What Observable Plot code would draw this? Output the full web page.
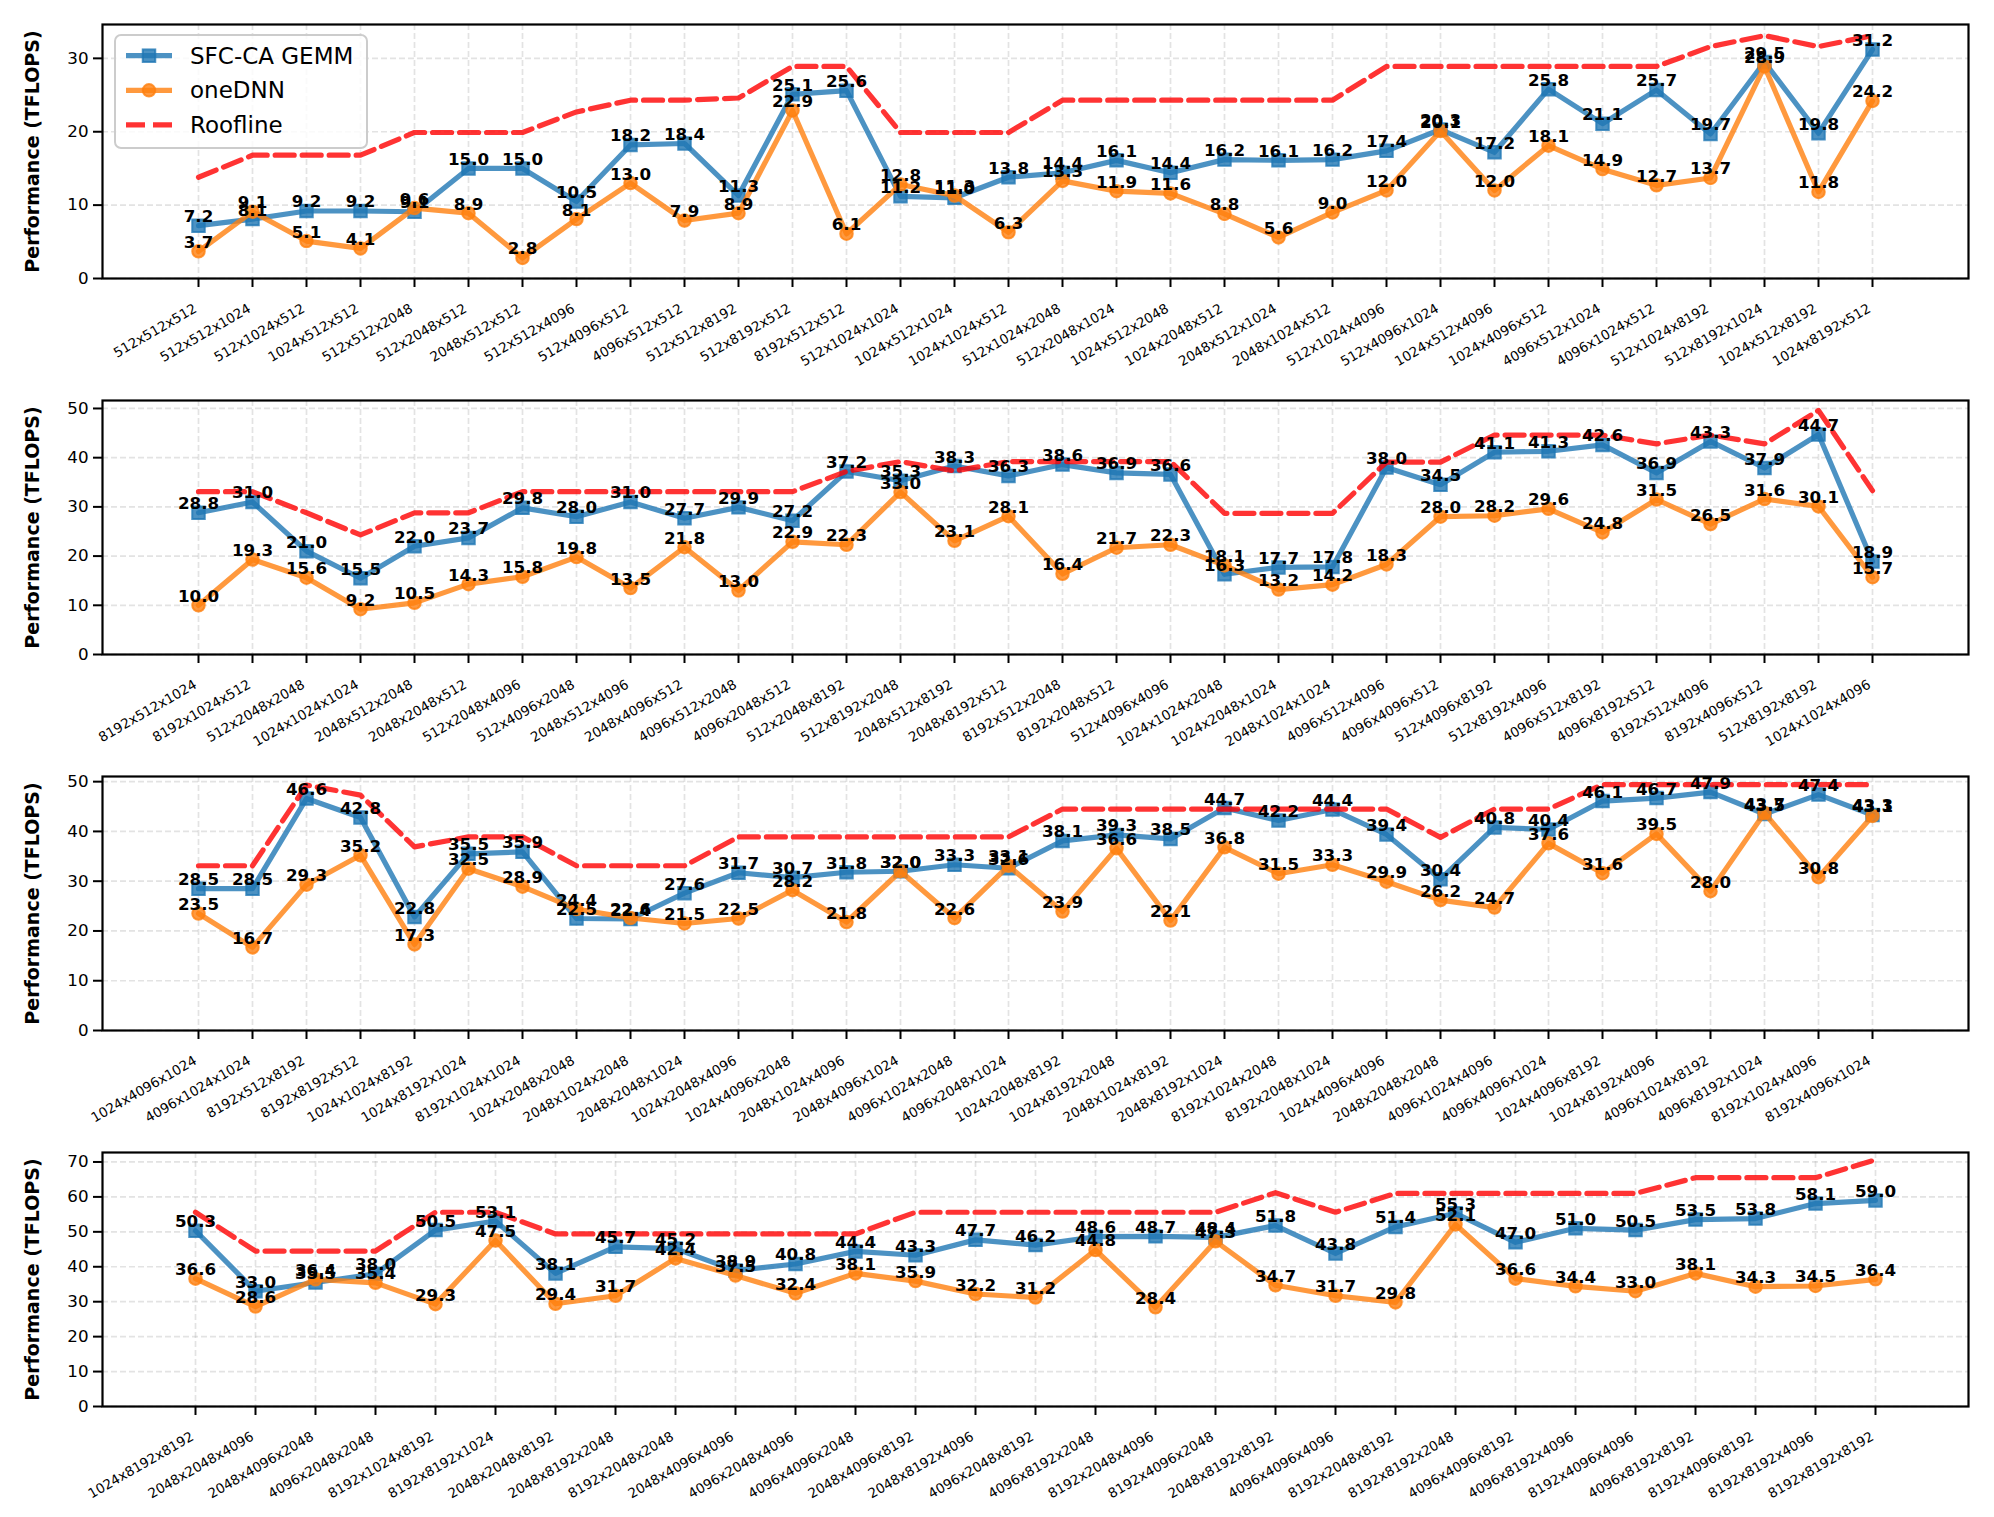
<!DOCTYPE html>
<html><head><meta charset="utf-8">
<script src="https://cdn.jsdelivr.net/npm/d3@7"></script>
<script src="https://cdn.jsdelivr.net/npm/@observablehq/plot@0.6"></script>
<style>
html,body{margin:0;padding:0;background:#fff;}
#root{position:relative;width:1994px;}
#root svg{display:block;}
</style></head><body><div id="root"></div>
<script>
// ---------- data ----------
const seriesNames = ["SFC-CA GEMM", "oneDNN", "Roofline"];
const yAxisLabel = "Performance (TFLOPS)";

const cats1 = ["512x512x512","512x512x1024","512x1024x512","1024x512x512","512x512x2048","512x2048x512","2048x512x512","512x512x4096","512x4096x512","4096x512x512","512x512x8192","512x8192x512","8192x512x512","512x1024x1024","1024x512x1024","1024x1024x512","512x1024x2048","512x2048x1024","1024x512x2048","1024x2048x512","2048x512x1024","2048x1024x512","512x1024x4096","512x4096x1024","1024x512x4096","1024x4096x512","4096x512x1024","4096x1024x512","512x1024x8192","512x8192x1024","1024x512x8192","1024x8192x512"];
const sfc1 = [7.2,8.1,9.2,9.2,9.1,15.0,15.0,10.5,18.2,18.4,11.3,25.1,25.6,11.2,11.0,13.8,14.4,16.1,14.4,16.2,16.1,16.2,17.4,20.3,17.2,25.8,21.1,25.7,19.7,29.5,19.8,31.2];
const one1 = [3.7,9.1,5.1,4.1,9.6,8.9,2.8,8.1,13.0,7.9,8.9,22.9,6.1,12.8,11.3,6.3,13.3,11.9,11.6,8.8,5.6,9.0,12.0,20.1,12.0,18.1,14.9,12.7,13.7,28.9,11.8,24.2];
const roof1 = [13.8,16.8,16.8,16.8,19.9,19.9,19.9,22.7,24.3,24.3,24.6,28.9,28.9,19.9,19.9,19.9,24.3,24.3,24.3,24.3,24.3,24.3,28.9,28.9,28.9,28.9,28.9,28.9,31.6,33.1,31.6,33.1];
const yTicks1 = [0,10,20,30];

const cats2 = ["8192x512x1024","8192x1024x512","512x2048x2048","1024x1024x1024","2048x512x2048","2048x2048x512","512x2048x4096","512x4096x2048","2048x512x4096","2048x4096x512","4096x512x2048","4096x2048x512","512x2048x8192","512x8192x2048","2048x512x8192","2048x8192x512","8192x512x2048","8192x2048x512","512x4096x4096","1024x1024x2048","1024x2048x1024","2048x1024x1024","4096x512x4096","4096x4096x512","512x4096x8192","512x8192x4096","4096x512x8192","4096x8192x512","8192x512x4096","8192x4096x512","512x8192x8192","1024x1024x4096"];
const sfc2 = [28.8,31.0,21.0,15.5,22.0,23.7,29.8,28.0,31.0,27.7,29.9,27.2,37.2,35.3,38.3,36.3,38.6,36.9,36.6,16.3,17.7,17.8,38.0,34.5,41.1,41.3,42.6,36.9,43.3,37.9,44.7,18.9];
const one2 = [10.0,19.3,15.6,9.2,10.5,14.3,15.8,19.8,13.5,21.8,13.0,22.9,22.3,33.0,23.1,28.1,16.4,21.7,22.3,18.1,13.2,14.2,18.3,28.0,28.2,29.6,24.8,31.5,26.5,31.6,30.1,15.7];
const roof2 = [33.1,33.1,28.8,24.3,28.8,28.8,33.1,33.1,33.1,33.1,33.1,33.1,37.2,39.2,37.3,39.2,39.2,39.2,39.2,28.7,28.7,28.7,39.1,39.1,44.6,44.6,44.6,42.8,44.6,42.8,49.6,33.3];
const yTicks2 = [0,10,20,30,40,50];

const cats3 = ["1024x4096x1024","4096x1024x1024","8192x512x8192","8192x8192x512","1024x1024x8192","1024x8192x1024","8192x1024x1024","1024x2048x2048","2048x1024x2048","2048x2048x1024","1024x2048x4096","1024x4096x2048","2048x1024x4096","2048x4096x1024","4096x1024x2048","4096x2048x1024","1024x2048x8192","1024x8192x2048","2048x1024x8192","2048x8192x1024","8192x1024x2048","8192x2048x1024","1024x4096x4096","2048x2048x2048","4096x1024x4096","4096x4096x1024","1024x4096x8192","1024x8192x4096","4096x1024x8192","4096x8192x1024","8192x1024x4096","8192x4096x1024"];
const sfc3 = [28.5,28.5,46.6,42.8,22.8,35.5,35.9,22.5,22.4,27.6,31.7,30.7,31.8,32.0,33.3,32.6,38.1,39.3,38.5,44.7,42.2,44.4,39.4,30.4,40.8,40.4,46.1,46.7,47.9,43.5,47.4,43.3];
const one3 = [23.5,16.7,29.3,35.2,17.3,32.5,28.9,24.4,22.6,21.5,22.5,28.2,21.8,32.0,22.6,33.1,23.9,36.6,22.1,36.8,31.5,33.3,29.9,26.2,24.7,37.6,31.6,39.5,28.0,43.7,30.8,43.1];
const roof3 = [33.1,33.1,49.3,47.3,36.9,38.9,38.9,33.1,33.1,33.1,38.9,38.9,38.9,38.9,38.9,38.9,44.5,44.5,44.5,44.5,44.5,44.5,44.5,38.8,44.5,44.5,49.4,49.4,49.4,49.4,49.4,49.4];
const yTicks3 = [0,10,20,30,40,50];

const cats4 = ["1024x8192x8192","2048x2048x4096","2048x4096x2048","4096x2048x2048","8192x1024x8192","8192x8192x1024","2048x2048x8192","2048x8192x2048","8192x2048x2048","2048x4096x4096","4096x2048x4096","4096x4096x2048","2048x4096x8192","2048x8192x4096","4096x2048x8192","4096x8192x2048","8192x2048x4096","8192x4096x2048","2048x8192x8192","4096x4096x4096","8192x2048x8192","8192x8192x2048","4096x4096x8192","4096x8192x4096","8192x4096x4096","4096x8192x8192","8192x4096x8192","8192x8192x4096","8192x8192x8192"];
const sfc4 = [50.3,33.0,35.5,38.0,50.5,53.1,38.1,45.7,45.2,38.9,40.8,44.4,43.3,47.7,46.2,48.6,48.7,48.4,51.8,43.8,51.4,55.3,47.0,51.0,50.5,53.5,53.8,58.1,59.0];
const one4 = [36.6,28.6,36.4,35.4,29.3,47.5,29.4,31.7,42.4,37.5,32.4,38.1,35.9,32.2,31.2,44.8,28.4,47.3,34.7,31.7,29.8,52.1,36.6,34.4,33.0,38.1,34.3,34.5,36.4];
const roof4 = [55.6,44.5,44.5,44.5,55.6,55.6,49.4,49.4,49.4,49.4,49.4,49.4,55.6,55.6,55.6,55.6,55.6,55.6,61.2,55.6,61.0,61.0,61.0,61.0,61.0,65.5,65.5,65.5,70.6];
const yTicks4 = [0,10,20,30,40,50,60,70];

// ---------- style ----------
const C_SFC = "#1f77b4", C_ONE = "#ff7f0e", C_ROOF = "#ff0000";
const W = 1994, H = 376, ML = 102, MR = 26, MT = 24, MB = 98;
const FONT = "'DejaVu Sans', sans-serif";

function panel(cats, sfc, one, roof, yTicks) {
  const n = cats.length;
  const rows = cats.map((c, i) => ({c, sfc: sfc[i], one: one[i], roof: roof[i]}));
  const all = [...sfc, ...one, ...roof];
  const lo = d3.min(all), hi = d3.max(all);
  const top = hi + 0.05 * (hi - lo);
  const lbl = {lineAnchor: "bottom", dy: -3.5, fontSize: 16.7, fontWeight: "bold", fill: "#000"};
  const grid = {stroke: "#b0b0b0", strokeOpacity: 0.35, strokeWidth: 1.7, strokeDasharray: "6,3"};
  return Plot.plot({
    width: W, height: H,
    marginLeft: ML, marginRight: MR, marginTop: MT, marginBottom: MB,
    style: {fontFamily: FONT, background: "#fff", color: "#000", overflow: "visible"},
    x: {type: "point", domain: cats, padding: 0.05 * (n - 1), label: null},
    y: {domain: [0, top], label: null},
    marks: [
      Plot.gridX(cats, grid),
      Plot.gridY(yTicks, grid),
      Plot.line(rows, {x: "c", y: "sfc", stroke: C_SFC, strokeOpacity: 0.8, strokeWidth: 5.2}),
      Plot.dot(rows, {x: "c", y: "sfc", symbol: "square", r: 7.05, fill: C_SFC, fillOpacity: 0.8, stroke: C_SFC, strokeOpacity: 0.8, strokeWidth: 2}),
      Plot.line(rows, {x: "c", y: "one", stroke: C_ONE, strokeOpacity: 0.8, strokeWidth: 5.2}),
      Plot.dot(rows, {x: "c", y: "one", symbol: "circle", r: 6.25, fill: C_ONE, fillOpacity: 0.8, stroke: C_ONE, strokeOpacity: 0.8, strokeWidth: 2}),
      Plot.line(rows, {x: "c", y: "roof", stroke: C_ROOF, strokeOpacity: 0.8, strokeWidth: 5.2, strokeDasharray: "19,8"}),
      Plot.text(rows, {x: "c", y: "sfc", text: d => d.sfc.toFixed(1), ...lbl}),
      Plot.text(rows, {x: "c", y: "one", text: d => d.one.toFixed(1), ...lbl}),
      Plot.frame({stroke: "#000", strokeWidth: 2.2}),
      Plot.axisX(cats, {tickSize: 9, strokeWidth: 2, tickFormat: () => "", label: null}),
      Plot.text(cats, {x: d => d, text: d => d, frameAnchor: "bottom", rotate: -30, textAnchor: "end", lineAnchor: "middle", dx: -3, dy: 29, fontSize: 13.5, fill: "#000"}),
      Plot.axisY(yTicks, {tickSize: 9, strokeWidth: 2, tickPadding: 5, fontSize: 16.7, label: null}),
      Plot.text([yAxisLabel], {text: d => d, frameAnchor: "left", textAnchor: "middle", lineAnchor: "middle", rotate: -90, dx: -70, fontSize: 19, fontWeight: "bold", fill: "#000"})
    ]
  });
}

const root = document.getElementById("root");
root.append(panel(cats1, sfc1, one1, roof1, yTicks1));
root.append(panel(cats2, sfc2, one2, roof2, yTicks2));
root.append(panel(cats3, sfc3, one3, roof3, yTicks3));
root.append(panel(cats4, sfc4, one4, roof4, yTicks4));

// ---------- legend (inside first panel, upper left) ----------
const ns = "http://www.w3.org/2000/svg";
const leg = document.createElementNS(ns, "svg");
leg.setAttribute("width", 420); leg.setAttribute("height", 170);
leg.style.position = "absolute"; leg.style.left = "0px"; leg.style.top = "0px";
leg.style.fontFamily = FONT;
function el(tag, attrs, parent) {
  const e = document.createElementNS(ns, tag);
  for (const k in attrs) e.setAttribute(k, attrs[k]);
  (parent || leg).appendChild(e);
  return e;
}
el("rect", {x: 115, y: 35, width: 252, height: 113, rx: 6, fill: "#fff", "fill-opacity": 0.8, stroke: "#cccccc", "stroke-width": 2});
const rowsY = [55.7, 90.3, 124.9];
const colors = [C_SFC, C_ONE, C_ROOF];
seriesNames.forEach((name, i) => {
  const y = rowsY[i];
  const line = el("line", {x1: 126, x2: 172, y1: y, y2: y, stroke: colors[i], "stroke-opacity": 0.8, "stroke-width": 5.2});
  if (i === 2) line.setAttribute("stroke-dasharray", "19,8");
  if (i === 0) el("rect", {x: 149 - 6.25, y: y - 6.25, width: 12.5, height: 12.5, fill: C_SFC, "fill-opacity": 0.8, stroke: C_SFC, "stroke-opacity": 0.8, "stroke-width": 2});
  if (i === 1) el("circle", {cx: 149, cy: y, r: 6.25, fill: C_ONE, "fill-opacity": 0.8, stroke: C_ONE, "stroke-opacity": 0.8, "stroke-width": 2});
  const t = el("text", {x: 190, y: y, "font-size": 23, "dominant-baseline": "central", fill: "#000"});
  t.textContent = name;
});
root.append(leg);
</script>
</body></html>
